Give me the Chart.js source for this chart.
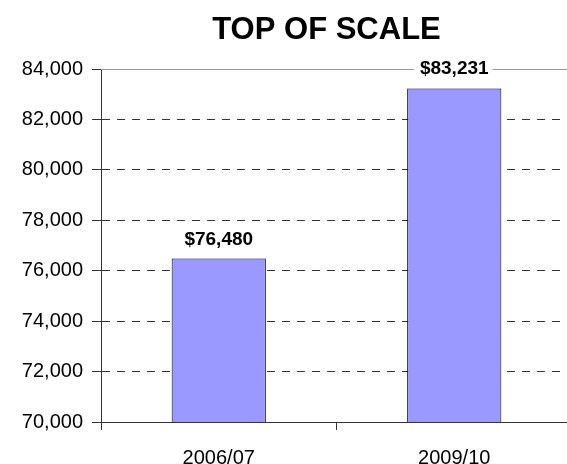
<!DOCTYPE html>
<html>
<head>
<meta charset="utf-8">
<script src="https://cdn.jsdelivr.net/npm/chart.js@4"></script>
<style>
  html, body { margin: 0; padding: 0; background: #fff; overflow: hidden; }
  #wrap { width: 572px; height: 464px; }
</style>
</head>
<body>
<div id="wrap"><canvas id="chart"></canvas></div>
<script>
const chartTitle = 'TOP OF SCALE';
const categories = ['2006/07', '2009/10'];
const salaries = [76480, 83231];
const yTicks = [70000, 72000, 74000, 76000, 78000, 80000, 82000, 84000];

const FONT = '"Liberation Sans", Arial, sans-serif';
const yMax = yTicks[yTicks.length - 1];

const fmt = v => v.toLocaleString('en-US');

// title centred over the plot, top solid line, value labels with white box
const extras = {
    id: 'extras',
    beforeDatasetsDraw(chart) {
        const ctx = chart.ctx;
        const area = chart.chartArea;
        const y = Math.round(chart.scales.y.getPixelForValue(yMax)) + 0.5;
        ctx.save();
        ctx.strokeStyle = '#999';
        ctx.lineWidth = 1;
        ctx.beginPath();
        ctx.moveTo(area.left, y);
        ctx.lineTo(area.right, y);
        ctx.stroke();
        ctx.restore();
    },
    afterDatasetsDraw(chart) {
        const ctx = chart.ctx;
        const area = chart.chartArea;
        ctx.save();
        ctx.fillStyle = '#000';
        ctx.font = 'bold 31px ' + FONT;
        ctx.textAlign = 'center';
        ctx.textBaseline = 'alphabetic';
        ctx.fillText(chartTitle, (area.left + area.right) / 2 - 10, 39);

        ctx.font = 'bold 19px ' + FONT;
        chart.getDatasetMeta(0).data.forEach((bar, i) => {
            const text = '$' + fmt(salaries[i]);
            const w = ctx.measureText(text).width;
            const base = bar.y - 14;
            ctx.fillStyle = '#fff';
            ctx.fillRect(bar.x - w / 2 - 6, base - 16, w + 10, 20);
            ctx.fillStyle = '#000';
            ctx.fillText(text, bar.x, base);
        });
        ctx.restore();
    }
};

const config = {
    type: 'bar',
    data: {
        labels: categories,
        datasets: [{
            data: salaries,
            backgroundColor: '#9999ff',
            borderColor: '#000',
            borderWidth: 1,
            categoryPercentage: 1,
            barPercentage: 0.4
        }]
    },
    options: {
        responsive: true,
        maintainAspectRatio: false,
        animation: false,
        layout: { padding: { top: 69, left: 0, right: 0, bottom: 0 } },
        plugins: {
            legend: { display: false },
            title: { display: false },
            tooltip: { enabled: false }
        },
        scales: {
            x: {
                afterFit: s => { s.height = 42; },
                grid: {
                    drawOnChartArea: false,
                    tickLength: 8,
                    tickColor: '#333',
                    offset: true
                },
                border: { color: '#333', width: 1 },
                ticks: {
                    color: '#000',
                    padding: 16,
                    font: { family: FONT, size: 20 }
                }
            },
            y: {
                min: yTicks[0],
                max: yMax,
                afterFit: s => { s.width = 101; },
                afterBuildTicks: s => { s.ticks = yTicks.map(v => ({ value: v })); },
                grid: {
                    color: c => (c.tick && c.tick.value === yMax) ? 'rgba(0,0,0,0)' : '#333',
                    tickColor: '#333',
                    tickLength: 9,
                    tickBorderDash: []
                },
                border: { color: '#333', width: 1, dash: [8, 7] },
                ticks: {
                    color: '#000',
                    padding: 9,
                    font: { family: FONT, size: 20 },
                    callback: v => fmt(v)
                }
            }
        }
    },
    plugins: [extras]
};

new Chart(document.getElementById('chart'), config);
</script>
</body>
</html>
